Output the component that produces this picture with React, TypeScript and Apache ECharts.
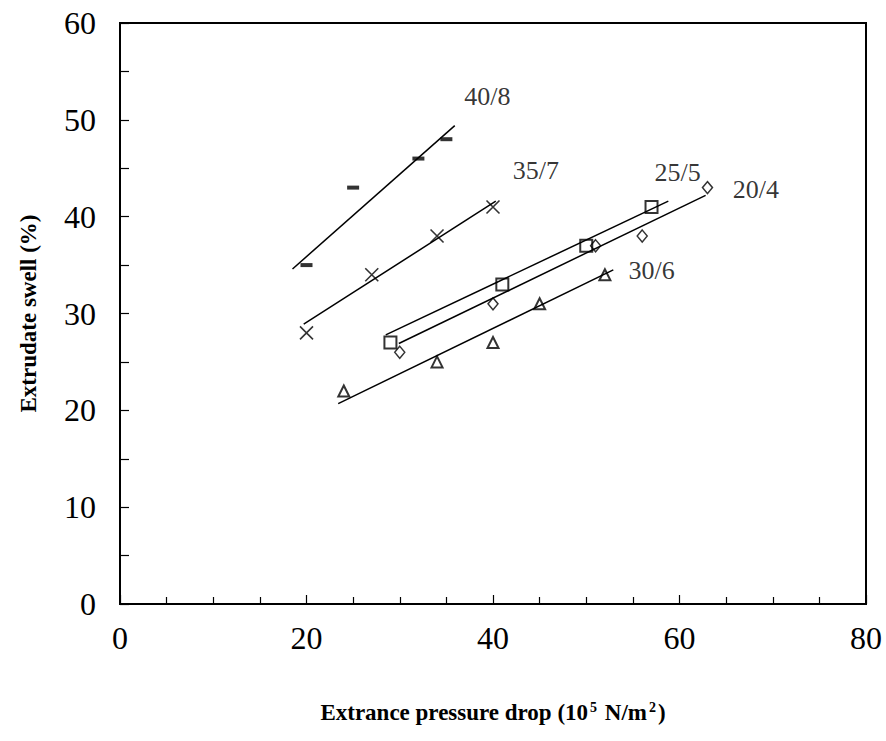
import React, { useEffect, useRef } from "react";
import * as echarts from "echarts";

// Measured points (x = entrance pressure drop, y = extrudate swell)
const s40_8: [number, number][] = [[20, 35], [25, 43], [32, 46], [35, 48]];
const s35_7: [number, number][] = [[20, 28], [27, 34], [34, 38], [40, 41]];
const s25_5: [number, number][] = [[29, 27], [41, 33], [50, 37], [57, 41]];
const s20_4: [number, number][] = [[30, 26], [40, 31], [51, 37], [56, 38], [63, 43]];
const s30_6: [number, number][] = [[24, 22], [34, 25], [40, 27], [45, 31], [52, 34]];

// Fitted line end points
const fit40_8: [number, number][] = [[18.5, 34.6], [35.9, 49.4]];
const fit35_7: [number, number][] = [[19.7, 28.9], [40.3, 41.6]];
const fit25_5: [number, number][] = [[28.5, 27.8], [58.8, 41.6]];
const fit20_4: [number, number][] = [[29.9, 26.9], [62.8, 42.2]];
const fit30_6: [number, number][] = [[23.4, 20.7], [52.9, 34.5]];

// Series labels and their positions
const labelNames = ["40/8", "35/7", "25/5", "20/4", "30/6"];
const labelPos: [number, number][] = [[39.4, 52.4], [44.6, 44.8], [59.8, 44.6], [68.2, 42.8], [57.0, 34.4]];

const xTicks = [0, 20, 40, 60, 80];
const yTicks = [0, 10, 20, 30, 40, 50, 60];

const FONT = "Liberation Serif";

export default function App() {
  const ref = useRef<HTMLDivElement>(null);
  useEffect(() => {
    if (!ref.current) return;
    const chart = echarts.init(ref.current, undefined, { renderer: "svg" });
    const hollow = (bw: number) => ({ color: "rgba(0,0,0,0)", borderColor: "#000", borderWidth: bw });
    const fitLine = (data: [number, number][]) => ({
      type: "line",
      data,
      symbol: "none",
      lineStyle: { color: "#000", width: 1.5 },
      z: 1,
    });
    chart.setOption({
      animation: false,
      backgroundColor: "#fff",
      grid: { left: 120, right: 20, top: 23, bottom: 137, show: true, borderColor: "#000", borderWidth: 2 },
      xAxis: {
        type: "value",
        min: xTicks[0],
        max: xTicks[xTicks.length - 1],
        interval: 20,
        name: "{a|Extrance pressure drop (10}{s|5}{a| N/m}{s|2}{a|)}",
        nameLocation: "middle",
        nameGap: 96,
        nameTextStyle: {
          rich: {
            a: { fontFamily: FONT, fontWeight: "bold", fontSize: 23, color: "#000" },
            s: { fontFamily: FONT, fontWeight: "bold", fontSize: 14, color: "#000", verticalAlign: "top", padding: [0, 2, 10, 2] },
          },
        },
        axisLine: { lineStyle: { color: "#000", width: 2 } },
        axisTick: { inside: true, length: 9, lineStyle: { color: "#000", width: 1.2 } },
        minorTick: { show: true, splitNumber: 4, length: 7, lineStyle: { color: "#000", width: 1.2 } },
        splitLine: { show: false },
        axisLabel: { fontFamily: FONT, fontSize: 32, color: "#000", margin: 18 },
      },
      yAxis: {
        type: "value",
        min: yTicks[0],
        max: yTicks[yTicks.length - 1],
        interval: 10,
        name: "Extrudate swell (%)",
        nameLocation: "middle",
        nameGap: 80,
        nameTextStyle: { fontFamily: FONT, fontWeight: "bold", fontSize: 23, color: "#000" },
        axisLine: { lineStyle: { color: "#000", width: 2 } },
        axisTick: { inside: true, length: 9, lineStyle: { color: "#000", width: 1.2 } },
        minorTick: { show: true, splitNumber: 2, length: 9, lineStyle: { color: "#000", width: 1.2 } },
        splitLine: { show: false },
        axisLabel: { fontFamily: FONT, fontSize: 32, color: "#000", margin: 24 },
      },
      series: [
        fitLine(fit40_8),
        fitLine(fit35_7),
        fitLine(fit25_5),
        fitLine(fit20_4),
        fitLine(fit30_6),
        { type: "scatter", data: s40_8, symbol: "rect", symbolSize: [12, 4], itemStyle: { color: "#000" }, z: 3 },
        { type: "scatter", data: s35_7, symbol: "path://M0,0L10,10M10,0L0,10", symbolSize: 13, itemStyle: hollow(1.6), z: 3 },
        { type: "scatter", data: s25_5, symbol: "rect", symbolSize: 12, itemStyle: hollow(2), z: 3 },
        { type: "scatter", data: s20_4, symbol: "diamond", symbolSize: [10, 12], itemStyle: hollow(1.5), z: 3 },
        { type: "scatter", data: s30_6, symbol: "triangle", symbolSize: 11, itemStyle: hollow(2), z: 3 },
        {
          type: "scatter",
          symbolSize: 0,
          data: labelNames.map((n, i) => ({ name: n, value: labelPos[i] })),
          label: {
            show: true,
            position: "inside",
            formatter: "{b}",
            fontFamily: FONT,
            fontSize: 26,
            color: "#000",
          },
          z: 4,
        },
      ],
    });
    return () => chart.dispose();
  }, []);
  return <div ref={ref} style={{ position: "absolute", left: 0, top: 0, width: 886, height: 741 }} />;
}
